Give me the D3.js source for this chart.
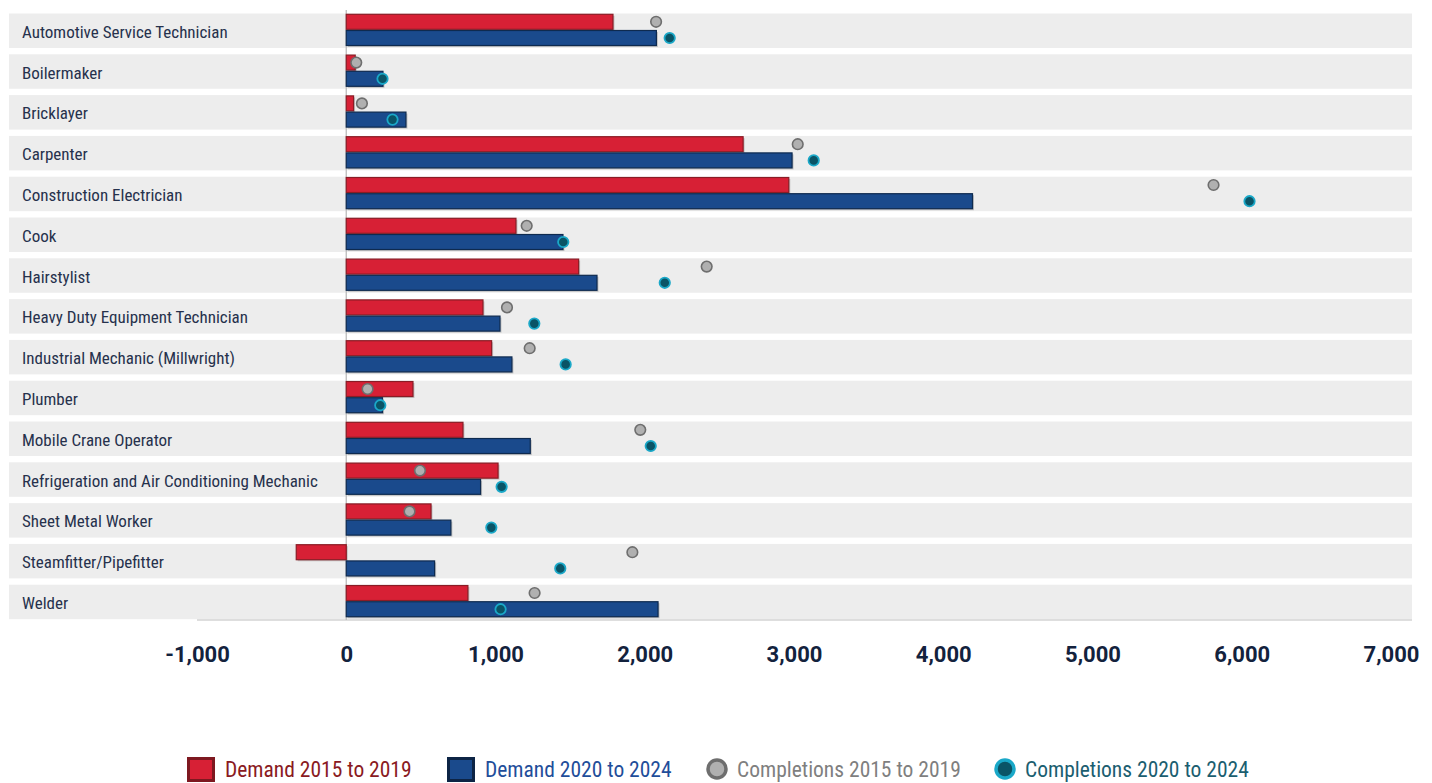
<!DOCTYPE html>
<html>
<head>
<meta charset="utf-8">
<script src="https://cdn.jsdelivr.net/npm/d3@7"></script>
<style>
  html, body { margin: 0; padding: 0; background: #fff; }
  svg { display: block; }
  .cat { font-family: "Liberation Sans Narrow", "Roboto Condensed", "DejaVu Sans Condensed", sans-serif; font-size: 17px; fill: #26314c; }
  .tick text { font-family: Roboto, "Liberation Sans", Arial, sans-serif; font-weight: 700; font-size: 22px; fill: #13223d; }
  .leg { font-family: "Liberation Sans Narrow", "Roboto Condensed", "DejaVu Sans Condensed", sans-serif; font-size: 21.5px; }
</style>
</head>
<body>
<svg id="chart" width="1432" height="783"></svg>
<script>
// Trades, in display order
const categories = [
  "Automotive Service Technician",
  "Boilermaker",
  "Bricklayer",
  "Carpenter",
  "Construction Electrician",
  "Cook",
  "Hairstylist",
  "Heavy Duty Equipment Technician",
  "Industrial Mechanic (Millwright)",
  "Plumber",
  "Mobile Crane Operator",
  "Refrigeration and Air Conditioning Mechanic",
  "Sheet Metal Worker",
  "Steamfitter/Pipefitter",
  "Welder"
];

// Demand (bars) and completions (dots) per period
const demand2015to2019 = [1787, 60, 49, 2659, 2965, 1137, 1557, 916, 974, 447, 782, 1017, 568, -335, 815];
const demand2020to2024 = [2078, 246, 400, 2987, 4196, 1452, 1680, 1030, 1110, 243, 1233, 900, 701, 592, 2089];
const completions2015to2019 = [2076, 67, 105, 3025, 5811, 1209, 2415, 1077, 1229, 143, 1970, 494, 424, 1917, 1262];
const completions2020to2024 = [2167, 243, 310, 3132, 6052, 1454, 2134, 1260, 1470, 228, 2040, 1041, 972, 1434, 1034];

// Axis ticks
const tickValues = [-1000, 0, 1000, 2000, 3000, 4000, 5000, 6000, 7000];

const legendItems = [
  { label: "Demand 2015 to 2019", kind: "rect", fill: "#d72035", stroke: "#7e1820", text: "#8a1a22" },
  { label: "Demand 2020 to 2024", kind: "rect", fill: "#1a4a8c", stroke: "#0d2445", text: "#1f4e9a" },
  { label: "Completions 2015 to 2019", kind: "dot", fill: "#b0b0b0", stroke: "#6e6e6e", text: "#7f7f7f" },
  { label: "Completions 2020 to 2024", kind: "dot", fill: "#0a5466", stroke: "#1aa8c8", text: "#1b5e70" }
];

const svg = d3.select("#chart");

const x = d3.scaleLinear().domain([-1000, 7000]).range([197, 1391]);
const y = d3.scaleBand().domain(categories).range([13.5, 619.2]).paddingInner(0.155).paddingOuter(0);

const rows = categories.map((c, i) => ({
  cat: c,
  d1: demand2015to2019[i],
  d2: demand2020to2024[i],
  c1: completions2015to2019[i],
  c2: completions2020to2024[i]
}));

// Row backgrounds
svg.append("g").selectAll("rect").data(rows).join("rect")
  .attr("x", 9).attr("width", 1412 - 9)
  .attr("y", d => y(d.cat)).attr("height", y.bandwidth())
  .attr("fill", "#ededed");

// Baseline and zero line
svg.append("line")
  .attr("x1", x(-1000)).attr("x2", 1412)
  .attr("y1", 620).attr("y2", 620)
  .attr("stroke", "#bdbdbd").attr("stroke-width", 1.2);
svg.append("line")
  .attr("x1", x(0)).attr("x2", x(0))
  .attr("y1", 10).attr("y2", 620)
  .attr("stroke", "#bcbcbc").attr("stroke-width", 1.3);

// Category labels
svg.append("g").selectAll("text").data(rows).join("text")
  .attr("class", "cat")
  .attr("x", 22)
  .attr("y", d => y(d.cat) + y.bandwidth() / 2 + 1)
  .attr("dy", "0.36em")
  .text(d => d.cat);

const barH = 15;
const offRed = 0.8, offBlue = 17;

function bars(key, off, fill, stroke) {
  const g = svg.append("g");
  // soft drop shadow
  g.selectAll("rect.sh").data(rows).join("rect")
    .attr("class", "sh")
    .attr("x", d => Math.min(x(0), x(d[key])) + 1.5)
    .attr("width", d => Math.abs(x(d[key]) - x(0)))
    .attr("y", d => y(d.cat) + off + 1.5)
    .attr("height", barH)
    .attr("fill", "#8c8c8c").attr("opacity", 0.45);
  g.selectAll("rect.bar").data(rows).join("rect")
    .attr("class", "bar")
    .attr("x", d => Math.min(x(0), x(d[key])))
    .attr("width", d => Math.abs(x(d[key]) - x(0)))
    .attr("y", d => y(d.cat) + off)
    .attr("height", barH)
    .attr("fill", fill).attr("stroke", stroke).attr("stroke-width", 1.2);
}
bars("d1", offRed, "#d72035", "#8a1c25");
bars("d2", offBlue, "#1a4a8c", "#0e2a4f");

// Completion dots
svg.append("g").selectAll("circle").data(rows).join("circle")
  .attr("cx", d => x(d.c1))
  .attr("cy", d => y(d.cat) + offRed + barH / 2)
  .attr("r", 5.3)
  .attr("fill", "#b0b0b0").attr("stroke", "#6e6e6e").attr("stroke-width", 1.6);
svg.append("g").selectAll("circle").data(rows).join("circle")
  .attr("cx", d => x(d.c2))
  .attr("cy", d => y(d.cat) + offBlue + barH / 2)
  .attr("r", 5.2)
  .attr("fill", "#0a5466").attr("stroke", "#1aa8c8").attr("stroke-width", 1.8);

// X axis (plain hyphen for negatives)
const fmt = d3.format(",");
const axis = svg.append("g")
  .attr("transform", "translate(0,640)")
  .call(d3.axisBottom(x).tickValues(tickValues)
    .tickFormat(v => fmt(v).replace("\u2212", "-"))
    .tickSize(0).tickPadding(0));
axis.select(".domain").remove();
axis.selectAll(".tick text").attr("dy", "1em");

// Legend
const legendX = [187, 447, 706, 994];
const leg = svg.append("g");
legendItems.forEach((it, i) => {
  const g = leg.append("g").attr("transform", `translate(${legendX[i]},769)`);
  if (it.kind === "rect") {
    g.append("rect").attr("x", 1.5).attr("y", -10.5).attr("width", 25).attr("height", 22)
      .attr("fill", it.fill).attr("stroke", it.stroke).attr("stroke-width", 3);
    g.append("text").attr("class", "leg").attr("x", 38).attr("y", 0).attr("dy", "0.36em")
      .attr("fill", it.text).text(it.label);
  } else {
    g.append("circle").attr("cx", 11).attr("cy", 0).attr("r", 9)
      .attr("fill", it.fill).attr("stroke", it.stroke).attr("stroke-width", 3.5);
    g.append("text").attr("class", "leg").attr("x", 31).attr("y", 0).attr("dy", "0.36em")
      .attr("fill", it.text).text(it.label);
  }
});
</script>
</body>
</html>
